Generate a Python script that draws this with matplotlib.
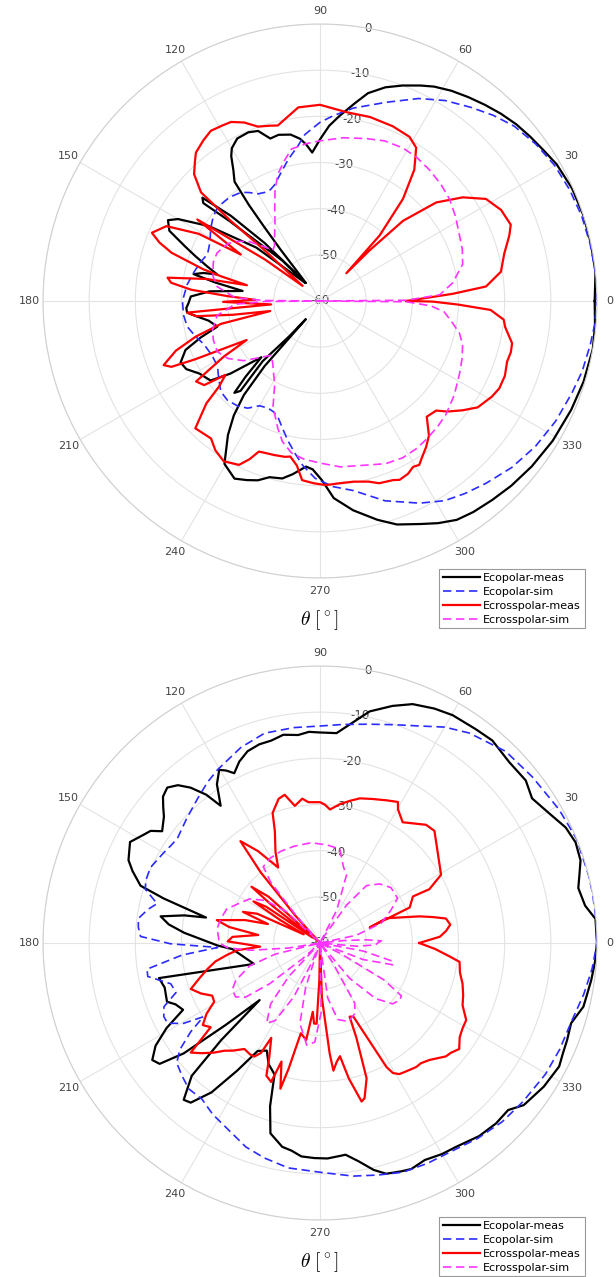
import matplotlib
matplotlib.use("Agg")
import matplotlib.pyplot as plt
import numpy as np

plt.rcParams["axes.unicode_minus"] = False
plt.rcParams["mathtext.fontset"] = "cm"

# ---- datos: (ángulo [°], nivel [dB]) ----
top_co_meas = [(0, -0.5), (6, 0), (12, 0), (18, 0), (24, -0.2), (30, -0.8), (34, -1.6), (38, -2.2),
    (42, -2.8), (46, -3.6), (50, -4.5), (54, -5.4), (58, -6.3), (62, -7.4), (65, -8.5), (69, -10),
    (73, -11.6), (77, -13.8), (80, -16.5), (84, -19.7), (87, -22), (90, -25), (93, -27.8), (95, -26),
    (97, -24.6), (100, -23.4), (104, -22.9), (107, -23.2), (110, -20.8), (113, -20.3), (117, -20.5),
    (120, -21.8), (121.5, -23.2), (123.5, -26), (125.6, -28.2), (126.5, -34), (127, -40), (127.5, -46),
    (128, -55), (133.7, -42.6), (136.3, -33.3), (138.7, -26.1), (140, -27), (138.5, -34), (137.7, -37.9),
    (133, -48), (129, -55), (140, -42), (146, -31), (150, -24.5), (152, -22.7), (155, -24), (158, -28.5),
    (160.2, -31.3), (163, -34.5), (165.5, -37), (166.5, -34), (168, -32), (170, -37), (172.6, -43.1),
    (175, -36), (178, -32), (181, -31.5), (183, -31), (185, -31.1), (187, -33), (190, -35.5), (194, -37.1),
    (197, -33), (200, -29), (203.8, -27), (207, -27.5), (211, -29.5), (216, -30.7), (219, -35),
    (223.8, -42.4), (225.5, -37), (227, -32.8), (228.5, -34), (226.4, -42), (229, -50), (232, -55),
    (229.6, -41.5), (231, -33.8), (233, -29), (235.5, -24.8), (239.6, -19.1), (244.3, -17.3),
    (247.8, -18.1), (250.9, -18.9), (254, -20.3), (258, -20.7), (261, -22), (265.2, -24), (267.5, -23.5),
    (270.6, -21.2), (274, -17.2), (279, -14.1), (284.7, -11), (289, -8.8), (294.3, -7), (298, -5.5),
    (302, -4.1), (306, -3.5), (310.9, -3), (316, -2.4), (322, -1.8), (329, -1.2), (336.6, -0.7),
    (343, -0.3), (350, 0), (355, -0.2), (360, -0.5)]

top_co_sim = [(0, 0), (6, 0), (12, -0.2), (18, -0.4), (24, -0.8), (30, -1.3), (36, -2.2), (42, -3.4),
    (47, -5), (52, -6.8), (58, -8.8), (64, -11.2), (71.5, -14.6), (80.2, -17.6), (86, -19.8), (90, -21.3),
    (95.2, -23.8), (98, -26), (102.7, -28.6), (107, -31), (111.4, -33), (114, -33.6), (117, -33.6),
    (120, -33.2), (123, -32), (126, -30.9), (131, -30.2), (137.4, -29.9), (142, -30.6), (146.5, -31.6),
    (152, -33), (157.3, -33.6), (162, -32.8), (167, -32), (173, -31), (180, -30.2), (186, -30.3),
    (190.9, -30.7), (196, -32), (200.6, -33.2), (207, -33.8), (212.4, -33.7), (217, -32.5), (222.4, -30.9),
    (227, -30.6), (231.9, -31.1), (236, -32), (240, -33.8), (244, -34.2), (247, -34), (250, -33.3),
    (254, -31), (257, -29), (260.6, -26.6), (264, -24.2), (268.4, -21.6), (274, -19.7), (280, -18.3),
    (288, -14.5), (296.2, -11.2), (302, -9), (307, -7.8), (312.3, -6.6), (319, -5), (326, -3.7),
    (333, -2.7), (340, -1.9), (345, -1.2), (350.8, -0.7), (355, -0.3), (360, 0)]

top_cross_meas = [(0, -41.3), (3.1, -31.2), (5, -23.9), (9.2, -20.3), (14.4, -18.8), (19.1, -16.6),
    (21.8, -15.5), (26.7, -16.1), (31.6, -17.8), (36, -21.8), (40.3, -27), (44, -35), (45.6, -44.6),
    (46.5, -51.7), (47.7, -40.8), (50.9, -31.5), (54.3, -25), (57.9, -20.8), (61.4, -19.5), (67.4, -19),
    (74.8, -18.7), (82, -18.7), (90, -17.5), (96.4, -17.8), (100, -19.5), (103.5, -20.9), (106, -20.5),
    (109.6, -19.9), (113, -18), (116.4, -16.7), (119, -16.5), (122.7, -16.2), (126, -17), (129.9, -18.1),
    (132, -19.5), (134.8, -21.3), (137.6, -25.1), (138.1, -34.1), (137.5, -43.7), (139, -55), (143, -45),
    (146.4, -28.1), (149.6, -40.1), (151, -30), (154, -23), (157.9, -20.7), (160, -23), (162, -26.2),
    (164.8, -33.8), (166, -38), (167.8, -43.8), (169, -35), (171.3, -26.6), (173, -27.5), (175, -32),
    (177, -40), (179, -46), (180.5, -39), (182, -45), (184, -49.4), (185, -31.1), (187, -33), (189, -41),
    (191.4, -49), (193, -38), (196, -32), (199, -27), (202.3, -23.4), (203.9, -24.8), (205, -30),
    (208, -42), (210, -36), (213, -28), (216, -29), (218, -34), (220.3, -31.3), (222, -26.9),
    (225.6, -21.4), (229, -21.8), (231.6, -22), (235, -20.5), (239, -19.5), (243.7, -20.4), (246, -22.5),
    (247.9, -24.8), (250, -25), (253.6, -25.2), (257.3, -25.4), (259.2, -25.7), (262, -24), (264.3, -21),
    (268, -20.5), (271.8, -20.1), (276, -20.3), (280.5, -20.2), (285, -19.5), (288, -18.5), (292.2, -18.1),
    (294, -17.6), (297, -18), (299.3, -18.8), (301.2, -18.5), (303, -19.5), (306, -20.9), (309, -22.5),
    (312.7, -25.9), (316.7, -25.4), (319, -23.5), (322.5, -21.1), (326, -18.8), (330.9, -17.4),
    (334, -16.8), (338, -16.8), (342, -17.4), (345, -17.2), (347.6, -17.4), (352, -19.5), (354.2, -20),
    (357, -23), (358.5, -30), (359.7, -35.6), (360, -41.3)]

top_cross_sim = [(0, -60), (0.5, -41.3), (3, -34), (7.8, -31), (14.4, -28.1), (20, -27.2), (25.2, -26.6),
    (32, -25.4), (38.2, -24.3), (44, -23.6), (50.2, -23), (56, -22.5), (61.6, -22.3), (68, -22.6),
    (74, -23.4), (82, -24.3), (90, -25.3), (95, -25.8), (100.6, -26.5), (104, -28.5), (108.3, -31),
    (112, -34), (115.7, -37.4), (120, -40.5), (124.9, -42.8), (129.5, -44.5), (133, -45), (136, -43),
    (140, -40), (144, -38), (148, -36.5), (154.9, -35.4), (160, -35.4), (166.9, -36.2), (172, -37.5),
    (177.8, -41.6), (179.5, -48), (180, -60), (180.5, -48), (182.2, -41.6), (188, -37.5), (195, -35.9),
    (200, -35.4), (206.3, -35.2), (212, -36.5), (218, -39), (223, -42), (228, -44.2), (233, -43),
    (237, -41.5), (241.4, -39.5), (246, -35), (251.6, -31), (255, -28.5), (259.4, -26.5), (264, -25.6),
    (270, -24.9), (277, -23.8), (286.9, -22.9), (292, -22), (297.8, -21.6), (303, -21.8), (307.5, -22.2),
    (313, -22.7), (318.1, -23.3), (325, -24.5), (332.4, -25.9), (338, -26.8), (343, -27.7), (347, -29),
    (350.6, -30.9), (355, -33), (357.5, -36), (359.5, -41.3), (360, -60)]

bot_co_meas = [(0, 0), (5, -0.1), (8, -2), (12, -2.8), (15, -1.8), (17.6, -0.8), (21.5, -0.5),
    (25.2, -1.2), (29.6, -3), (34.3, -4.4), (38.3, -3.2), (43.7, -3.3), (49.6, -2.4), (53.9, -2.7),
    (59.8, -2.9), (64, -3.5), (68.8, -4.5), (73, -6.3), (77.9, -8.7), (81.4, -11.6), (85.5, -14.4),
    (90, -14.4), (93, -14.2), (96, -14.7), (100, -14.2), (103.5, -14.9), (107, -15), (110.7, -15.6),
    (114, -17), (116.8, -18.8), (118.5, -17.5), (120.2, -16.6), (123, -19), (125.9, -23.3), (127.5, -19.5),
    (129.8, -16.2), (132, -14), (134.5, -12.8), (137, -13.5), (139, -15), (141, -16.5), (144.7, -18.1),
    (146.5, -16), (148.4, -15.2), (152, -13.4), (156.6, -14.8), (159, -16.5), (162.3, -19.2),
    (164.1, -24.8), (167.4, -34.7), (168.5, -30), (170.5, -25), (173, -27), (175.7, -30.5), (178, -34),
    (181.4, -37.8), (184, -41), (197.6, -45), (192.3, -24.3), (196, -25), (201, -24.5), (203, -26),
    (206, -27), (209, -22), (212, -18), (214.9, -15.7), (217, -16.5), (219, -22), (221, -33),
    (223.4, -42), (224.5, -30), (226, -20), (229, -15), (231, -15.5), (234, -20), (237, -27), (240, -33),
    (243.7, -34), (247, -31.5), (250.9, -29.9), (253, -23), (255.4, -17.4), (259.5, -15.1), (262.2, -14.6),
    (265, -13.6), (268.5, -13.4), (272, -13.3), (276.9, -13.8), (280, -12), (283.3, -9.5), (286, -8),
    (289.6, -7.5), (292, -7.2), (295.8, -7.8), (300, -7.2), (303.8, -6.9), (309.5, -5.8), (314.3, -5.4),
    (318.4, -5.5), (321.5, -3.6), (327.3, -2.4), (332.7, -1.7), (335.5, -2.2), (338.6, -2.5),
    (342.3, -2.9), (346.4, -1.3), (349, -1.1), (352.2, -0.7), (356, -0.3), (360, 0)]

bot_co_sim = [(0, 0), (5, 0), (10.4, 0), (14.2, 0), (22, 0), (29.2, -0.7), (38, -1.6), (45.9, -2.2),
    (54.6, -4.2), (60, -6), (65.4, -8.3), (71, -10), (77.2, -11.4), (84, -12.4), (90, -13), (97, -13),
    (104.8, -13), (112, -14.3), (120.6, -16.4), (125, -17.5), (130.3, -19), (137, -20.5), (143.8, -21.7),
    (147, -21.4), (150, -20.9), (156, -19.8), (160, -19.9), (162.9, -20.4), (166.4, -23.7), (169, -22),
    (172.3, -20.3), (175, -20.5), (177.9, -21.1), (180.3, -27.6), (182.5, -37.8), (185, -30),
    (188.6, -22.1), (191, -22), (195.3, -26.5), (199, -27), (202.2, -23.5), (205.2, -22.6),
    (207.8, -22.7), (210.5, -25.7), (212.3, -30.1), (214.5, -26), (217.3, -21.8), (220, -19.5),
    (224, -18.5), (228, -17.5), (232.9, -17.6), (238, -16.2), (244.4, -14.8), (250, -13), (255.5, -11.9),
    (262, -10.8), (270.4, -10.3), (278.1, -9), (284, -8.2), (289.9, -7.2), (296, -6.9), (302.6, -6.6),
    (309, -5.6), (315.6, -4.7), (322, -4.2), (329.8, -3.5), (336, -3.2), (343, -2.9), (349, -1.8),
    (354.6, -0.8), (360, 0)]

bot_cross_meas = [(0, -38.5), (3, -34), (5.4, -32.6), (8, -31.5), (11, -32.2), (13, -35), (15, -37.7),
    (20.4, -44.6), (17.4, -48.7), (21.6, -39.1), (26.6, -37.5), (26.2, -33.6), (29.4, -29.9),
    (37.4, -27.9), (44.4, -25.3), (48.1, -25.6), (55.6, -28.3), (59.7, -26.5), (61.1, -25.1), (65, -25.9),
    (70, -26.8), (74.6, -27.5), (78, -28.5), (81.8, -29.6), (85.7, -31), (88, -30), (90, -29.5),
    (94.7, -29.4), (97, -28.5), (100.4, -29.8), (103.4, -27), (106, -27.5), (110, -30), (112, -33.9),
    (116, -38), (119, -41.3), (124, -36), (128, -32), (130, -40), (132, -52), (133.5, -60), (138, -45),
    (140.6, -40.8), (142, -47), (143.5, -58), (146, -46), (148, -43), (150, -50), (152, -56), (155, -45),
    (158, -42), (160, -48), (163, -43), (167.5, -37.1), (170, -40), (172.6, -46.5), (176, -41), (179, -40),
    (181, -44), (183.5, -47), (185, -42), (187.2, -39.8), (190, -37), (193, -35), (196, -33),
    (199.6, -30.3), (203, -32), (206, -34), (209, -33.8), (212, -31), (215, -29), (217.6, -30.1),
    (219, -27), (220.3, -23.3), (223, -25), (226, -27), (228.4, -28.8), (231, -30), (234.5, -31.8),
    (238, -31.5), (240, -31.6), (241.8, -33), (242.8, -36.9), (246, -33), (248, -29), (250.6, -28.1),
    (252, -33), (254.8, -27.3), (256, -32), (258, -40), (261.9, -38.8), (264, -45), (265.8, -42.5),
    (267.6, -42.5), (269, -52), (270, -60), (272, -48), (275, -36), (276, -32.2), (278, -34),
    (280, -35.1), (282, -30), (284.7, -24.5), (286, -25), (289, -29), (291, -38), (291.9, -42.8),
    (294.4, -42.5), (296.8, -36.1), (298.2, -29.5), (299.3, -27.7), (301.2, -26.8), (304, -26.5),
    (307.8, -26), (310, -26), (313.1, -25.3), (318, -23.3), (320, -23), (322.7, -22.1), (326, -23.5),
    (329, -24), (332.2, -24.2), (336.4, -26.3), (340, -27), (344.1, -27.9), (348, -29), (352.3, -29.5),
    (354.1, -31.8), (357, -35), (360, -38.5)]

bot_cross_sim = [(0, -47.5), (2, -46.7), (4, -50), (6, -55), (8, -60), (12, -52), (18, -46), (25, -43),
    (30, -40.6), (38, -40.5), (44.7, -41.8), (51, -44), (55, -50), (58, -58), (60, -60), (63, -52),
    (68.7, -44.2), (73, -42.7), (78, -39.2), (86, -38.7), (95, -38.2), (105, -38.3), (113, -38.4),
    (120.5, -38.7), (126.6, -39.4), (129, -43), (131, -52), (133, -60), (137, -50), (142, -45), (148, -42),
    (154.5, -40.3), (160, -38.5), (166, -37.9), (172, -37.5), (177, -38), (180, -38.2), (183, -40),
    (186, -45), (189, -53), (191, -60), (194, -50), (198, -44), (204, -40), (208, -38.5), (212.5, -38.3),
    (216, -40), (219, -46), (222, -55), (224, -60), (227, -50), (231, -43), (236.4, -39.1), (240, -40.6),
    (244, -47), (247, -55), (249, -60), (252, -50), (256, -42), (262.6, -37.7), (267, -38.5), (271, -45),
    (274, -60), (278, -48), (283, -43), (290, -41.9), (296.6, -43), (300, -45), (303, -55), (306, -60),
    (310, -50), (315, -43), (320, -39.5), (324.5, -38.7), (327, -39), (330, -44), (333, -55), (336, -60),
    (339, -50), (343.4, -43.4), (346, -44), (349.5, -50.5), (352, -60), (355, -52), (358, -48),
    (360, -47.5)]

labels = ["Ecopolar-meas", "Ecopolar-sim", "Ecrosspolar-meas", "Ecrosspolar-sim"]
colors = ["#000000", "#2b2bff", "#ff0000", "#ff33ff"]
r_ticks = [-60, -50, -40, -30, -20, -10, 0]
theta_ticks = list(range(0, 360, 30))

W, H = 616, 1277
fig = plt.figure(figsize=(W / 100, H / 100), dpi=100)


def draw_panel(rect, curves, legend_top):
    ax = fig.add_axes(rect, projection="polar")
    for lab, col, pts in zip(labels, colors, curves):
        deg, db = zip(*pts)
        if "sim" in lab:
            ax.plot(np.radians(deg), db, color=col, lw=1.2, dashes=(5, 2.8), label=lab)
        else:
            ax.plot(np.radians(deg), db, color=col, lw=1.6, label=lab)
    ax.set_ylim(-60, 0)
    ax.set_yticks(r_ticks)
    ax.set_yticklabels([])
    # etiquetas radiales centradas sobre cada anillo, a 80°
    for v in r_ticks:
        ax.text(np.radians(80), v, str(v), ha="center", va="center",
                fontsize=8.5, color="#444444", zorder=1)
    ax.set_xticks(np.radians(theta_ticks))
    ax.set_xticklabels([str(v) for v in theta_ticks], fontsize=8, color="#444444")
    ax.tick_params(axis="x", pad=-1)
    ax.grid(True, color="#e3e3e3", lw=0.8)
    ax.spines["polar"].set_color("#d0d0d0")
    ax.spines["polar"].set_linewidth(0.8)
    leg = ax.legend(loc="upper left", bbox_to_anchor=(439 / W, 1 - legend_top / H),
                    bbox_transform=fig.transFigure, borderaxespad=0, fontsize=8,
                    handlelength=3.3, handletextpad=0.3, labelspacing=0.35, borderpad=0.35,
                    fancybox=False, edgecolor="#999999", framealpha=1)
    leg.get_frame().set_linewidth(0.8)
    return ax


draw_panel([43 / W, 1 - 578 / H, 554 / W, 554 / H],
           [top_co_meas, top_co_sim, top_cross_meas, top_cross_sim], 569)
fig.text(320 / W, 1 - 620 / H, r"$\theta\ [^\circ]$", ha="center", va="center", fontsize=14)

draw_panel([43 / W, 1 - 1220 / H, 554 / W, 554 / H],
           [bot_co_meas, bot_co_sim, bot_cross_meas, bot_cross_sim], 1217)
fig.text(320 / W, 1 - 1262 / H, r"$\theta\ [^\circ]$", ha="center", va="center", fontsize=14)

fig.savefig("out.png", dpi=100)
